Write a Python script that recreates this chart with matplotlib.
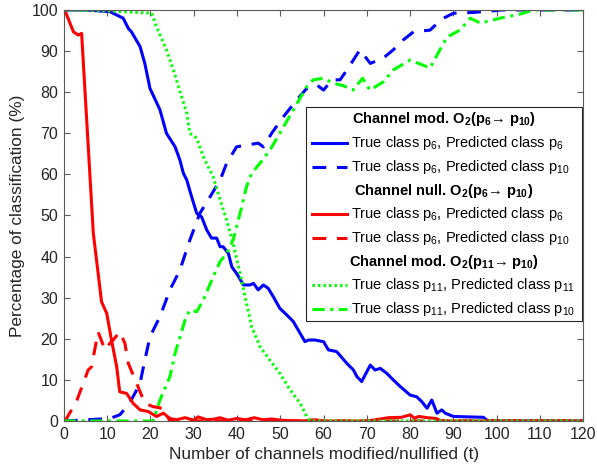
import matplotlib
matplotlib.use('Agg')
import matplotlib.pyplot as plt
from matplotlib.lines import Line2D
from matplotlib.patches import Rectangle

plt.rcParams['font.family'] = ['Liberation Sans', 'DejaVu Sans']
plt.rcParams['mathtext.fontset'] = 'custom'
plt.rcParams['mathtext.rm'] = 'Liberation Sans'
plt.rcParams['mathtext.it'] = 'Liberation Sans:italic'
plt.rcParams['mathtext.bf'] = 'Liberation Sans:bold'

# ==================== DATA ====================
# Channel modification O2(p6 -> p10), true class p6, predicted p6
mod6_t = [0, 5, 10.6, 13.7, 14.9, 15.6, 17.6, 18.7, 19.9, 22.2, 23.7, 25.7, 26.8, 27.6,
          28.4, 29.5, 30.7, 31.8, 33.0, 34.1, 35.3, 36.1, 36.8, 38.0, 38.8, 39.9, 41.5,
          43.0, 43.8, 44.9, 46.1, 47.2, 48.4, 49.9, 51.5, 53.0, 54.6, 55.7, 56.5, 58.0,
          60.0, 61.1, 63.0, 65.4, 66.9, 67.7, 68.8, 70.8, 71.9, 73.1, 74.6, 76.1, 77.7,
          80.0, 81.5, 82.7, 83.9, 85.0, 86.2, 87.3, 88.1, 90.0, 96.9, 98, 120]
mod6_p6 = [100, 100, 99.6, 98.0, 95.5, 94.7, 91.1, 87.0, 80.9, 75.7, 70.0, 66.7, 63.5, 60.3,
           58.6, 54.6, 50.5, 49.7, 46.5, 44.5, 44.5, 42.4, 42.4, 40.8, 37.5, 35.9, 33.1,
           33.1, 33.5, 31.9, 33.1, 32.3, 30.2, 27.4, 25.8, 24.2, 21.3, 19.3, 19.7, 19.7,
           19.3, 17.3, 16.9, 14.0, 12.4, 10.8, 9.6, 13.6, 12.4, 12.8, 11.6, 10.0, 8.4,
           6.3, 5.9, 4.7, 3.1, 5.1, 1.9, 2.7, 1.9, 1.1, 0.9, 0, 0]

# Channel modification O2(p6 -> p10), true class p6, predicted p10
mod6_p10_t = [0, 10.6, 12.9, 14.9, 16.4, 17.6, 18.7, 19.9, 22.2, 24.5, 26.8, 29.1, 31.4,
              33.8, 36.1, 37.6, 39.9, 42.6, 44.9, 46.1, 48.0, 50.7, 53.8, 56.1, 58.4,
              60.0, 61.9, 63.8, 65.4, 68.4, 70.8, 73.8, 76.1, 78.4, 80.8, 84.6, 85.4,
              87.7, 90.0, 94.6, 99.2, 101, 120]
mod6_p10 = [0, 0.6, 1.5, 3.9, 6.7, 9.2, 14.8, 20.5, 25.4, 31.9, 36.7, 44.0, 50.5,
            54.6, 58.6, 62.7, 66.7, 67.2, 67.6, 66.7, 70.0, 74.0, 78.1, 80.9, 81.8,
            80.5, 83.0, 83.0, 85.4, 90.3, 87.0, 88.3, 90.3, 92.7, 94.7, 95.1, 95.9,
            98.0, 99.2, 99.4, 99.8, 100, 100]

# Channel nullification O2(p6 -> p10), true class p6, predicted p6
null6_t = [0, 0.2, 2.2, 3.3, 4.1, 6.8, 8.7, 9.9, 11.0, 12.2, 12.9, 14.5, 16.0, 17.6,
           19.5, 21.4, 23.0, 24.5, 26, 28, 30, 31, 33, 35, 36, 38, 40, 42, 44, 46, 48,
           50, 52, 55, 58, 60, 70, 72, 75, 78, 80, 81, 82, 84, 86, 87, 88, 120]
null6_p6 = [100, 100, 94.7, 93.9, 94.3, 45.7, 29.0, 26.2, 19.7, 13.2, 7.1, 6.7, 4.3, 2.7,
            2.3, 1.1, 1.9, 0.6, 0.3, 0.8, 0.2, 1.0, 0.3, 0.5, 0.8, 0.2, 0.6, 0.3, 0.8,
            0.3, 0.5, 0.2, 0.1, 0, 0.3, 0, 0, 0.3, 0.8, 0.9, 1.5, 0.7, 1.1, 0.8, 0.6,
            0.1, 0, 0]

# Channel nullification O2(p6 -> p10), true class p6, predicted p10
null6_p10_t = [0, 0.6, 2.9, 5.6, 6.4, 7.9, 9.5, 10.6, 11.4, 12.9, 14.1, 14.9, 16.8,
               18.7, 20.6, 22.6, 23.7, 24.5, 120]
null6_p10 = [0, 0.6, 4.7, 12.4, 13.2, 21.7, 17.3, 18.9, 19.7, 21.7, 18.9, 14.0, 9.2,
             4.3, 3.5, 3.1, 1.5, 0, 0]

# Channel modification O2(p11 -> p10), true class p11, predicted p11
mod11_t = [0, 10, 15, 20.3, 21.4, 23.7, 25.3, 27.2, 28.4, 29.1, 30.7, 32.2, 34.5, 36.1,
           37.6, 39.1, 40.7, 42.2, 43.4, 45.3, 47.6, 49.9, 52.3, 54.6, 56.1, 57, 120]
mod11_p11 = [100, 99.8, 99.5, 99.2, 95.9, 90.3, 85.4, 78.9, 74.9, 70.0, 68.8, 64.3, 59.4,
             53.8, 48.9, 43.2, 35.9, 28.6, 22.9, 18.1, 14.8, 11.6, 7.5, 4.3, 1.1, 0, 0]

# Channel modification O2(p11 -> p10), true class p11, predicted p10
mod11_p10_t = [0, 20.6, 22.2, 24.5, 25.7, 28.0, 29.1, 30.7, 32.2, 34.5, 36.1, 37.6,
               39.1, 40.7, 42.2, 43.4, 45.3, 47.6, 49.9, 53.0, 56.1, 57.6, 60.0, 62.2,
               64.5, 66.8, 69.0, 70.7, 73.8, 76.1, 80.0, 84.6, 88.5, 91.5, 93.9, 96.2,
               100.8, 105.4, 108.4, 120]
mod11_p10 = [0, 0, 5.1, 10.8, 16.5, 24.6, 27.0, 26.6, 29.4, 35.1, 38.8, 40.8,
             44.0, 50.5, 57.0, 60.3, 62.7, 65.9, 70.0, 75.7, 81.3, 83.0, 83.4, 82.2,
             81.6, 80.5, 83.4, 80.5, 82.5, 85.4, 87.8, 85.9, 93.4, 95.1, 98.0, 96.8,
             98.0, 99.0, 100, 100]

XTICKS = list(range(0, 121, 10))
YTICKS = list(range(0, 101, 10))

AX_COLOR = '#5a5a5a'
TXT_COLOR = '#262626'


def main():
    fig = plt.figure(figsize=(5.97, 4.75), dpi=100)
    ax = fig.add_axes([0.107, 0.1137, 0.870, 0.8653])

    ax.plot(mod6_t, mod6_p6, color='#0000ff', lw=2.2, ls='-')
    ax.plot(mod6_p10_t, mod6_p10, color='#0000ff', lw=2.2, dashes=(4.5, 3.5))
    ax.plot(null6_t, null6_p6, color='#ff0000', lw=2.2, ls='-')
    ax.plot(null6_p10_t, null6_p10, color='#ff0000', lw=2.2, dashes=(4.5, 3.5))
    ax.plot(mod11_t, mod11_p11, color='#00ff00', lw=2.2, dashes=(0.8, 1.0))
    ax.plot(mod11_p10_t, mod11_p10, color='#00ff00', lw=2.2, dashes=(4.0, 1.8, 1.0, 1.8))

    ax.set_xlim(0, 120)
    ax.set_ylim(0, 100)
    ax.set_xticks(XTICKS)
    ax.set_yticks(YTICKS)
    ax.tick_params(direction='in', length=4, width=0.8, colors=AX_COLOR,
                   labelcolor=TXT_COLOR, labelsize=11.5, top=True, right=True, pad=4)
    for sp in ax.spines.values():
        sp.set_color(AX_COLOR)
        sp.set_linewidth(0.8)
    ax.set_xlabel('Number of channels modified/nullified (t)', fontsize=12.4,
                  color=TXT_COLOR, labelpad=4)
    ax.set_ylabel('Percentage of classification (%)', fontsize=12.4,
                  color=TXT_COLOR, labelpad=5)

    # ---- hand-made legend (MATLAB style with bold group headers) ----
    fs = 10.5
    x0, x1 = 0.466, 0.998
    y_top, y_bot = 0.763, 0.243
    ax.add_patch(Rectangle((x0, y_bot), x1 - x0, y_top - y_bot, transform=ax.transAxes,
                           facecolor='white', edgecolor='#262626', lw=0.8, zorder=5))
    rows = [
        ('h', r'Channel mod. O$_\mathbf{2}$(p$_\mathbf{6}$→ p$_\mathbf{10}$)', None),
        ('l', r'True class p$_{6}$, Predicted class p$_{6}$', dict(color='#0000ff', ls='-')),
        ('l', r'True class p$_{6}$, Predicted class p$_{10}$', dict(color='#0000ff', dashes=(4.5, 3.5))),
        ('h', r'Channel null. O$_\mathbf{2}$(p$_\mathbf{6}$→ p$_\mathbf{10}$)', None),
        ('l', r'True class p$_{6}$, Predicted class p$_{6}$', dict(color='#ff0000', ls='-')),
        ('l', r'True class p$_{6}$, Predicted class p$_{10}$', dict(color='#ff0000', dashes=(4.5, 3.5))),
        ('h', r'Channel mod. O$_\mathbf{2}$(p$_\mathbf{11}$→ p$_\mathbf{10}$)', None),
        ('l', r'True class p$_{11}$, Predicted class p$_{11}$', dict(color='#00ff00', dashes=(0.8, 1.0))),
        ('l', r'True class p$_{11}$, Predicted class p$_{10}$', dict(color='#00ff00', dashes=(4.0, 1.8, 1.0, 1.8))),
    ]
    row_h = (y_top - y_bot) / 9.0
    hx0, hx1, tx = 0.478, 0.545, 0.553
    for i, (kind, label, style) in enumerate(rows):
        y = y_top - row_h * (i + 0.5)
        if kind == 'h':
            ax.text((x0 + x1) / 2, y, label, transform=ax.transAxes, ha='center', va='center',
                    fontsize=fs, fontweight='bold', color='black', zorder=6)
        else:
            ax.add_line(Line2D([hx0, hx1], [y, y], transform=ax.transAxes, lw=2.2,
                               zorder=6, **style))
            ax.text(tx, y, label, transform=ax.transAxes, ha='left', va='center',
                    fontsize=fs, color='black', zorder=6)

    fig.savefig('out.png', dpi=100)
    plt.close(fig)


if __name__ == "__main__":
    main()
